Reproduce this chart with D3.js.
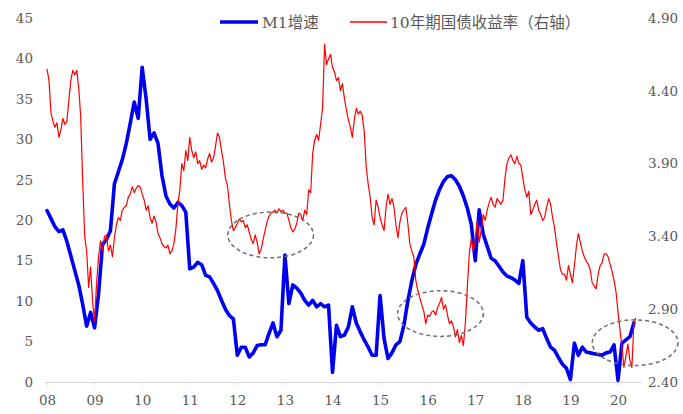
<!DOCTYPE html>
<html>
<head>
<meta charset="utf-8">
<script src="https://cdn.jsdelivr.net/npm/d3@7/dist/d3.min.js"></script>
<style>
  body { margin: 0; background: #fff; }
  svg { display: block; }
</style>
</head>
<body>
<svg id="chart" width="683" height="414"></svg>
<script>
// M1 year-on-year growth (%), monthly, starting January 2008
const startYear = 2008;
const m1Growth = [
  21.2, 20.2, 19.2, 18.6, 18.8, 17.4, 15.6, 13.8, 12.0, 9.6, 6.9, 8.6,
  6.7, 10.9, 17.0, 17.6, 18.7, 24.5, 26.0, 27.5, 29.5, 32.0, 34.6, 32.6,
  38.9, 35.0, 30.0, 30.8, 29.5, 25.5, 23.0, 22.0, 21.5, 22.2, 21.8, 21.0,
  14.0, 14.2, 14.8, 14.5, 13.2, 13.0, 12.2, 11.3, 10.1, 9.0, 8.2, 7.8,
  3.3, 4.3, 4.3, 3.1, 3.6, 4.5, 4.6, 4.6, 6.0, 7.3, 5.6, 6.4,
  15.7, 9.7, 12.0, 11.6, 11.0, 10.1, 9.5, 10.1, 9.3, 9.7, 9.3, 9.5,
  1.2, 7.0, 5.6, 5.8, 6.8, 9.3, 7.3, 6.2, 5.2, 4.3, 3.3, 3.3,
  10.7, 5.4, 2.9, 3.6, 4.6, 5.0, 7.0, 10.0, 12.5, 14.5, 15.8, 17.0,
  19.0, 20.8, 22.5, 23.8, 24.8, 25.4, 25.5, 25.0, 24.2, 23.0, 21.5, 19.5,
  15.0, 21.3, 18.3, 16.8, 15.3, 15.0, 14.3, 13.6, 13.1, 12.9, 12.6, 12.2,
  15.0, 8.0, 7.3, 6.8, 6.4, 6.6, 5.4, 4.3, 3.9, 3.0, 2.2, 1.7,
  0.3, 4.8, 3.3, 4.3, 3.7, 3.6, 3.5, 3.4, 3.3, 3.6, 3.7, 4.6,
  0.2, 4.8, 5.2, 5.6, 7.3
];

// 10-year government bond yield (%), twice a month, starting January 2008
const bondYield = [
  4.55, 4.47, 4.25, 4.19, 4.15, 4.18, 4.08, 4.13, 4.21, 4.17, 4.19, 4.33, 4.47, 4.54, 4.51, 4.54, 4.42, 4.22, 3.78, 3.40, 3.30, 3.05, 3.19, 2.95,
  2.82, 3.08, 3.26, 3.37, 3.30, 3.40, 3.41, 3.30, 3.34, 3.26, 3.39, 3.48, 3.53, 3.51, 3.58, 3.60, 3.61, 3.67, 3.69, 3.74, 3.70, 3.73, 3.75, 3.74,
  3.69, 3.65, 3.58, 3.61, 3.53, 3.49, 3.54, 3.50, 3.42, 3.39, 3.35, 3.33, 3.32, 3.34, 3.28, 3.30, 3.35, 3.45, 3.62, 3.72, 3.90, 3.85, 3.99, 3.92,
  4.08, 3.99, 3.94, 3.98, 3.90, 3.92, 3.86, 3.89, 3.87, 3.93, 3.97, 3.91, 3.94, 4.02, 4.11, 4.08, 3.99, 3.91, 3.80, 3.75, 3.62, 3.51, 3.44, 3.46,
  3.49, 3.52, 3.50, 3.51, 3.46, 3.48, 3.43, 3.38, 3.35, 3.41, 3.36, 3.28, 3.31, 3.38, 3.44, 3.50, 3.54, 3.56, 3.57, 3.58, 3.56, 3.59, 3.57, 3.58,
  3.56, 3.56, 3.51, 3.46, 3.43, 3.45, 3.49, 3.56, 3.55, 3.51, 3.58, 3.55, 3.72, 3.70, 3.97, 4.06, 4.10, 4.06, 4.17, 4.28, 4.72, 4.58, 4.62, 4.65,
  4.56, 4.53, 4.47, 4.49, 4.40, 4.45, 4.35, 4.27, 4.20, 4.15, 4.08, 4.20, 4.28, 4.24, 4.26, 4.23, 4.12, 3.88, 3.76, 3.67, 3.53, 3.48, 3.65, 3.60,
  3.53, 3.48, 3.44, 3.60, 3.69, 3.62, 3.66, 3.60, 3.48, 3.39, 3.50, 3.56, 3.58, 3.60, 3.49, 3.35, 3.30, 3.26, 3.10, 3.03, 2.98, 2.93, 2.89, 2.80,
  2.86, 2.85, 2.88, 2.89, 2.86, 2.91, 2.94, 2.98, 2.90, 2.93, 2.86, 2.80, 2.82, 2.78, 2.71, 2.76, 2.67, 2.72, 2.65, 2.80, 3.05, 3.28, 3.39, 3.30,
  3.37, 3.51, 3.36, 3.44, 3.55, 3.51, 3.58, 3.63, 3.67, 3.62, 3.60, 3.66, 3.64, 3.62, 3.65, 3.80, 3.90, 3.94, 3.96, 3.92, 3.90, 3.95, 3.90, 3.89,
  3.80, 3.72, 3.67, 3.71, 3.55, 3.58, 3.62, 3.65, 3.58, 3.55, 3.51, 3.53, 3.60, 3.66, 3.62, 3.53, 3.46, 3.35, 3.26, 3.17, 3.14, 3.14, 3.10, 3.20,
  3.14, 3.08, 3.20, 3.33, 3.42, 3.36, 3.30, 3.26, 3.23, 3.21, 3.17, 3.08, 3.06, 3.04, 3.14, 3.20, 3.22, 3.28, 3.28, 3.26, 3.21, 3.16, 3.10, 3.02,
  2.88, 2.76, 2.64, 2.50, 2.58, 2.66, 2.55, 2.50, 2.80, 2.84
];

const yearTicks = [2008, 2009, 2010, 2011, 2012, 2013, 2014, 2015, 2016, 2017, 2018, 2019, 2020];
const leftTicks = [0, 5, 10, 15, 20, 25, 30, 35, 40, 45];
const rightTicks = [2.40, 2.90, 3.40, 3.90, 4.40, 4.90];
const seriesNames = ["M1增速", "10年期国债收益率（右轴）"];

// Periods circled on the yield line: centre (year, yield) and half-spans
const highlights = [
  { year: 2012.70, yld: 3.41 },
  { year: 2016.27, yld: 2.87 },
  { year: 2020.36, yld: 2.67 }
];
const highlightHalfYears = 0.90;
const highlightHalfYield = 0.157;

const svg = d3.select("#chart");
const textColor = "#595959";
const numFont = "'DejaVu Serif', 'Liberation Serif', serif";

const x = d3.scaleLinear().domain([2008, 2020]).range([47, 618]);
const yLeft = d3.scaleLinear().domain([0, 45]).range([382, 18]);
const yRight = d3.scaleLinear().domain([2.4, 4.9]).range([382, 18]);

// Bottom axis
const xAxis = svg.append("g")
  .attr("transform", "translate(0,382)")
  .call(d3.axisBottom(x).tickValues(yearTicks)
    .tickFormat(d => String(d).slice(2)).tickSize(3).tickPadding(10));
xAxis.select(".domain").remove();
xAxis.selectAll(".tick line").attr("stroke", "#d9d9d9");
xAxis.selectAll("text").attr("fill", textColor)
  .style("font-family", numFont).style("font-size", "13.5px");
svg.append("line")
  .attr("x1", x(2007.96)).attr("x2", x(2020.5))
  .attr("y1", 382.5).attr("y2", 382.5)
  .attr("stroke", "#d9d9d9").attr("stroke-width", 1);

// Left axis
const leftAxis = svg.append("g")
  .attr("transform", "translate(33,0)")
  .call(d3.axisLeft(yLeft).tickValues(leftTicks).tickSize(0).tickPadding(0));
leftAxis.select(".domain").remove();
leftAxis.selectAll("text").attr("fill", textColor)
  .style("font-family", numFont).style("font-size", "13.5px");

// Right axis
const rightAxis = svg.append("g")
  .attr("transform", "translate(648,0)")
  .call(d3.axisRight(yRight).tickValues(rightTicks)
    .tickFormat(d3.format(".2f")).tickSize(0).tickPadding(0));
rightAxis.select(".domain").remove();
rightAxis.selectAll("text").attr("fill", textColor)
  .style("font-family", numFont).style("font-size", "13.5px");

// M1 growth line
const m1Line = d3.line()
  .x((d, i) => x(startYear + i / 12))
  .y(d => yLeft(d))
  .curve(d3.curveLinear);
svg.append("path")
  .datum(m1Growth)
  .attr("d", m1Line)
  .attr("fill", "none")
  .attr("stroke", "#0000f0")
  .attr("stroke-width", 3.6)
  .attr("stroke-linejoin", "round")
  .attr("stroke-linecap", "round");

// Bond yield line (right axis)
const yieldLine = d3.line()
  .x((d, i) => x(startYear + i / 24))
  .y(d => yRight(d));
svg.append("path")
  .datum(bondYield)
  .attr("d", yieldLine)
  .attr("fill", "none")
  .attr("stroke", "#ff0000")
  .attr("stroke-width", 1.2)
  .attr("stroke-linejoin", "round");

// Dashed ellipses around the highlighted periods
svg.selectAll("ellipse.hl")
  .data(highlights)
  .join("ellipse")
  .attr("class", "hl")
  .attr("cx", d => x(d.year))
  .attr("cy", d => yRight(d.yld))
  .attr("rx", d => x(d.year + highlightHalfYears) - x(d.year))
  .attr("ry", d => yRight(d.yld - highlightHalfYield) - yRight(d.yld))
  .attr("fill", "none")
  .attr("stroke", "#6f6f6f")
  .attr("stroke-width", 1.5)
  .attr("stroke-dasharray", "4,3");

// Legend
const legend = svg.append("g").attr("transform", "translate(0,22)");
const legendItems = [
  { name: seriesNames[0], color: "#0000f0", width: 3.6, x0: 220, x1: 258, tx: 262 },
  { name: seriesNames[1], color: "#ff0000", width: 1.3, x0: 350, x1: 387, tx: 390 }
];
legendItems.forEach(it => {
  legend.append("line")
    .attr("x1", it.x0).attr("x2", it.x1)
    .attr("y1", 0).attr("y2", 0)
    .attr("stroke", it.color).attr("stroke-width", it.width);
  legend.append("text")
    .attr("x", it.tx).attr("y", 0).attr("dy", "0.36em")
    .attr("fill", textColor)
    .style("font-family", "'DejaVu Serif', 'Noto Sans CJK SC', serif")
    .style("font-size", "15.5px")
    .text(it.name);
});
</script>
</body>
</html>
